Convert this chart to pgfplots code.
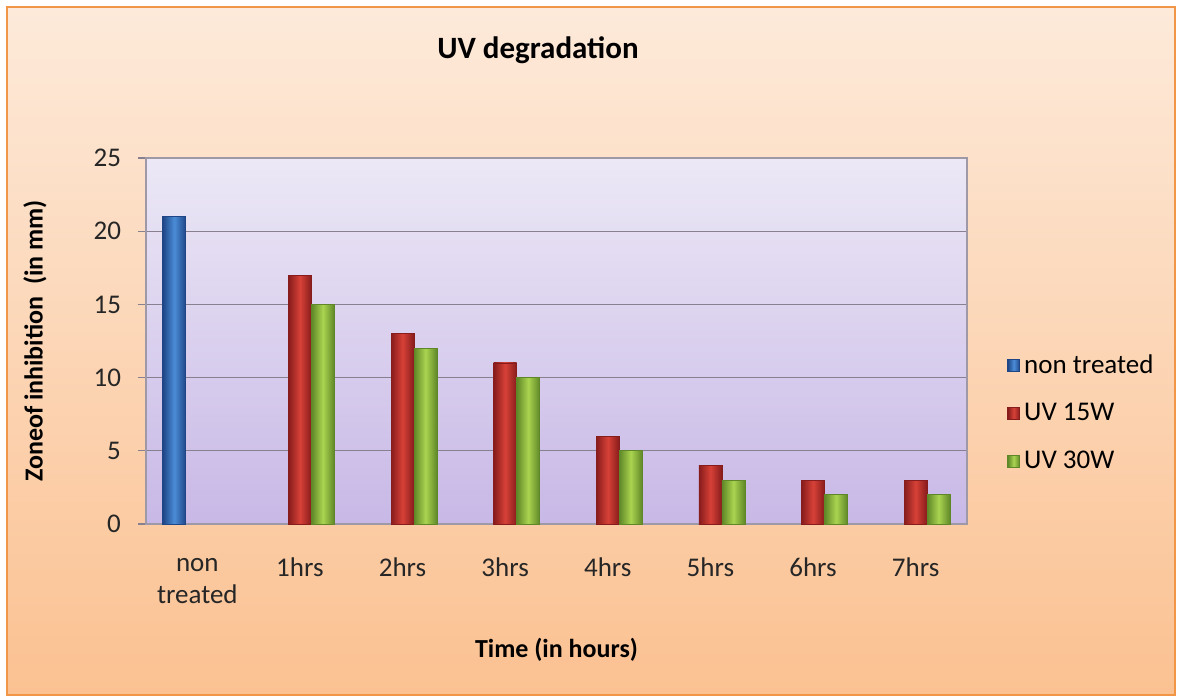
\documentclass[border=0pt]{standalone}
\usepackage{pgfplots}
\pgfplotsset{compat=1.18}
\usepackage{fontspec}
\setmainfont{Carlito}
\definecolor{bgtop}{RGB}{253,234,218}
\definecolor{bgbot}{RGB}{251,193,145}
\definecolor{frame}{RGB}{240,150,70}
\definecolor{patop}{RGB}{236,232,246}
\definecolor{pabot}{RGB}{200,184,230}
\definecolor{gridc}{RGB}{135,128,145}
\definecolor{bdark}{RGB}{30,70,135}
\definecolor{blight}{RGB}{75,140,215}
\definecolor{rdark}{RGB}{135,28,28}
\definecolor{rlight}{RGB}{215,65,55}
\definecolor{gdark}{RGB}{95,135,40}
\definecolor{glight}{RGB}{170,212,80}
\tikzset{
  bluebar/.style={draw=bdark, left color=bdark, right color=bdark, middle color=blight},
  redbar/.style={draw=rdark, left color=rdark, right color=rdark, middle color=rlight},
  greenbar/.style={draw=gdark, left color=gdark, right color=gdark, middle color=glight},
}
\pgfplotsset{sqlegend/.style={legend image code/.code={\draw[##1] (0pt,-3pt) rectangle (6pt,3pt);}}}
\begin{document}
\begin{tikzpicture}[x=1pt,y=1pt]
\useasboundingbox (0,0) rectangle (589.5,349);
\fill[white] (0,0) rectangle (589.5,349);
\draw[frame, line width=0.9pt, top color=bgtop, bottom color=bgbot] (3.5,1.5) rectangle (587.5,345.5);
\node[font=\fontsize{15.5}{18}\selectfont\bfseries] at (269,324) {UV degradation};
\begin{axis}[
  at={(73pt,87pt)}, anchor=south west,
  scale only axis, width=410.5pt, height=183pt,
  ybar, bar width=11.5pt,
  xmin=-0.5, xmax=7.5, ymin=0, ymax=25,
  xtick={0,...,7},
  xticklabels={{non\\treated},1hrs,2hrs,3hrs,4hrs,5hrs,6hrs,7hrs},
  xticklabel style={align=center, font=\fontsize{13.5}{16}\selectfont, text=black!85},
  x tick style={draw=none},
  ytick={0,5,...,25}, ytick pos=left,
  yticklabel style={font=\fontsize{13.5}{16}\selectfont, text=black!85},
  /pgf/number format/assume math mode=true,
  tick align=outside, major tick length=4pt,
  y tick style={draw=gridc, line width=0.6pt},
  ymajorgrids, major grid style={draw=gridc, line width=0.6pt},
  axis line style={draw=gridc!80, line width=0.6pt},
  axis background/.style={top color=patop, bottom color=pabot},
  xticklabel shift=9.5pt,
  yticklabel shift=5pt,
  xlabel={Time (in hours)},
  ylabel={Zoneof inhibition\ \ (in mm)},
  label style={font=\fontsize{13}{15}\selectfont\bfseries},
  xlabel style={at={(axis description cs:0.5,-0.344)}, anchor=center},
  ylabel style={at={(axis description cs:-0.1352,0.5)}, anchor=center},
  legend style={at={(430.5pt,55.5pt)}, anchor=west, draw=none, fill=none,
    font=\fontsize{13.5}{16}\selectfont, row sep=9.5pt, inner sep=0pt},
  legend cell align=left,
]
% non treated
\addplot[bluebar, bar shift=-11.5pt, forget plot] coordinates {(0,21)};
% UV 15W
\addplot[redbar, bar shift=0pt, forget plot] coordinates {(1,17)};
\addplot[redbar, bar shift=0pt, forget plot] coordinates {(2,13)};
\addplot[redbar, bar shift=0pt, forget plot] coordinates {(3,11)};
\addplot[redbar, bar shift=0pt, forget plot] coordinates {(4,6)};
\addplot[redbar, bar shift=0pt, forget plot] coordinates {(5,4)};
\addplot[redbar, bar shift=0pt, forget plot] coordinates {(6,3)};
\addplot[redbar, bar shift=0pt, forget plot] coordinates {(7,3)};
% UV 30W
\addplot[greenbar, bar shift=11.5pt, forget plot] coordinates {(1,15)};
\addplot[greenbar, bar shift=11.5pt, forget plot] coordinates {(2,12)};
\addplot[greenbar, bar shift=11.5pt, forget plot] coordinates {(3,10)};
\addplot[greenbar, bar shift=11.5pt, forget plot] coordinates {(4,5)};
\addplot[greenbar, bar shift=11.5pt, forget plot] coordinates {(5,3)};
\addplot[greenbar, bar shift=11.5pt, forget plot] coordinates {(6,2)};
\addplot[greenbar, bar shift=11.5pt, forget plot] coordinates {(7,2)};
\addlegendimage{bluebar, sqlegend}
\addlegendentry{non treated}
\addlegendimage{redbar, sqlegend}
\addlegendentry{UV 15W}
\addlegendimage{greenbar, sqlegend}
\addlegendentry{UV 30W}
\end{axis}
\end{tikzpicture}
\end{document}
